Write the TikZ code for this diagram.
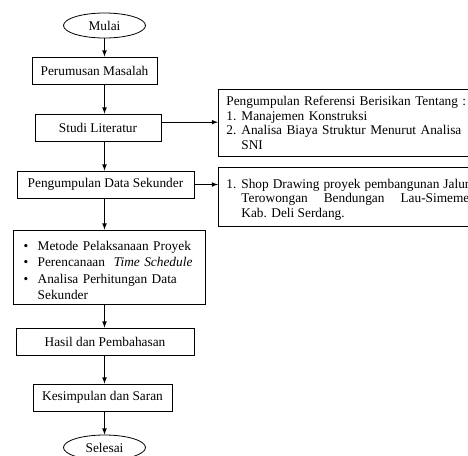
\documentclass[tikz,border=0pt]{standalone}
\usepackage{fontspec}
\setmainfont{Liberation Serif}
\usetikzlibrary{shapes.geometric}

\newcommand{\numitem}[2]{\par\noindent\hangindent=11.25pt\hangafter=1\makebox[11.25pt][l]{#1}#2\par}
\newcommand{\bulitem}[1]{\par\noindent\hangindent=10.5pt\hangafter=1\makebox[10.5pt][l]{\textbullet}#1\par}

\tikzset{
    flow/.style={->, >=latex, line width=0.6pt},
    proses/.style={draw, line width=0.6pt, rectangle, minimum height=20.25pt, inner sep=2pt, font=\fontsize{10}{12}\selectfont},
    terminal/.style={draw, line width=0.6pt, ellipse, minimum width=61.5pt, minimum height=18.75pt, inner sep=0pt, font=\fontsize{10}{12}\selectfont},
    keterangan/.style={draw, line width=0.6pt, rectangle, anchor=north west, inner xsep=6pt, inner ysep=2pt, font=\fontsize{10}{11}\selectfont}
}

\begin{document}
\begin{tikzpicture}[x=0.75pt, y=-0.75pt]
    \useasboundingbox (0,0) rectangle (468,455);
    \node[terminal] (mulai) at (104.5,25.5) {Mulai};
    \node[proses, minimum width=93.75pt] (perumusan) at (94.5,70.5) {Perumusan Masalah};
    \node[proses, minimum width=94.5pt] (studi) at (98,127.5) {Studi Literatur};
    \node[proses, minimum width=132.75pt] (data) at (105.5,184.5) {Pengumpulan Data Sekunder};
    \node[proses, text width=128pt, inner xsep=8pt, minimum height=55.5pt, align=left, font=\fontsize{10}{12.2}\selectfont] (metode) at (109,267) {%
        \bulitem{Metode Pelaksanaan Proyek}
        \bulitem{Perencanaan \ \textit{Time Schedule}}
        \bulitem{Analisa Perhitungan Data Sekunder}};
    \node[proses, minimum width=133.5pt] (hasil) at (105,341.5) {Hasil dan Pembahasan};
    \node[proses, minimum width=104.25pt] (kesimpulan) at (102.5,397.5) {Kesimpulan dan Saran};
    \node[terminal] (selesai) at (104.5,447.5) {Selesai};
    % kotak keterangan di kanan
    \node[keterangan, text width=182.25pt, minimum height=50.25pt, align=left] (referensi) at (218,89) {%
        Pengumpulan Referensi Berisikan Tentang :
        \numitem{1.}{Manajemen Konstruksi}
        \numitem{2.}{Analisa Biaya Struktur Menurut Analisa SNI}};
    \node[keterangan, text width=182.25pt, minimum height=44.25pt, align=justify] (shop) at (218,167) {%
        \numitem{1.}{Shop Drawing proyek pembangunan Jalur Terowongan Bendungan Lau-Simeme Kab. Deli Serdang.}};
    % alur utama
    \draw[flow] (mulai) -- (mulai |- perumusan.north);
    \draw[flow] (perumusan.south -| mulai) -- (studi.north -| mulai);
    \draw[flow] (studi.south -| mulai) -- (data.north -| mulai);
    \draw[flow] (data.south -| mulai) -- (metode.north -| mulai);
    \draw[flow] (metode.south -| mulai) -- (hasil.north -| mulai);
    \draw[flow] (hasil.south -| mulai) -- (kesimpulan.north -| mulai);
    \draw[flow] (kesimpulan.south -| mulai) -- (selesai);
    \draw[flow] ([yshift=4pt]studi.east) -- ([yshift=4pt]studi.east -| referensi.west);
    \draw[flow] (data.east) -- (data.east -| shop.west);
\end{tikzpicture}
\end{document}
